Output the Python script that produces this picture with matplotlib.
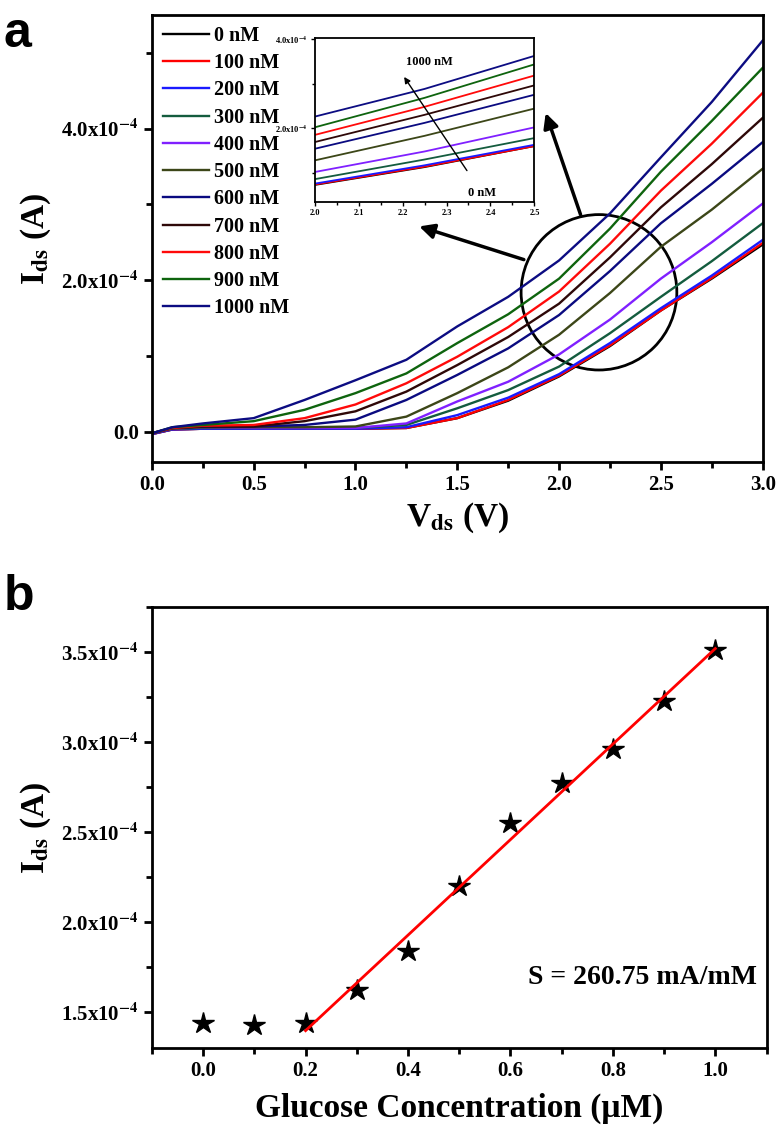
import numpy as np
import matplotlib
matplotlib.use("Agg")
import matplotlib.pyplot as plt
from matplotlib.patches import Ellipse
from matplotlib.ticker import MultipleLocator

plt.rcParams['font.family'] = ['Liberation Serif', 'DejaVu Serif']
plt.rcParams['font.weight'] = 'bold'
plt.rcParams['axes.labelweight'] = 'bold'
plt.rcParams['mathtext.fontset'] = 'stix'
plt.rcParams['axes.linewidth'] = 2

# panel a : output curves, current in units of 1e-4 A
vds = [0.0, 0.1, 0.25, 0.5, 0.75, 1.0, 1.25, 1.5, 1.75, 2.0, 2.25, 2.5, 2.75, 3.0]
conc_labels = ['0 nM', '100 nM', '200 nM', '300 nM', '400 nM', '500 nM',
               '600 nM', '700 nM', '800 nM', '900 nM', '1000 nM']
ids_0 = [-0.03, 0.03, 0.04, 0.04, 0.04, 0.04, 0.05, 0.18, 0.41, 0.73, 1.13, 1.60, 2.02, 2.47]
ids_100 = [-0.03, 0.03, 0.04, 0.04, 0.04, 0.04, 0.05, 0.18, 0.42, 0.74, 1.14, 1.60, 2.03, 2.49]
ids_200 = [-0.03, 0.03, 0.04, 0.04, 0.04, 0.04, 0.06, 0.22, 0.45, 0.76, 1.17, 1.63, 2.06, 2.53]
ids_300 = [-0.02, 0.04, 0.05, 0.05, 0.05, 0.05, 0.09, 0.31, 0.55, 0.86, 1.30, 1.78, 2.25, 2.75]
ids_400 = [-0.02, 0.04, 0.06, 0.05, 0.05, 0.05, 0.11, 0.40, 0.66, 1.02, 1.48, 2.02, 2.50, 3.01]
ids_500 = [-0.02, 0.04, 0.06, 0.06, 0.06, 0.07, 0.20, 0.51, 0.85, 1.28, 1.83, 2.44, 2.93, 3.47]
ids_600 = [-0.02, 0.05, 0.07, 0.07, 0.09, 0.16, 0.42, 0.75, 1.10, 1.54, 2.12, 2.75, 3.27, 3.82]
ids_700 = [-0.02, 0.05, 0.07, 0.07, 0.14, 0.27, 0.53, 0.88, 1.25, 1.69, 2.30, 2.96, 3.53, 4.14]
ids_800 = [-0.02, 0.05, 0.08, 0.09, 0.18, 0.36, 0.64, 0.99, 1.38, 1.85, 2.48, 3.18, 3.80, 4.47]
ids_900 = [-0.02, 0.06, 0.09, 0.14, 0.29, 0.51, 0.77, 1.17, 1.55, 2.02, 2.68, 3.43, 4.10, 4.80]
ids_1000 = [-0.02, 0.06, 0.11, 0.18, 0.42, 0.68, 0.95, 1.39, 1.78, 2.26, 2.88, 3.62, 4.35, 5.16]
curves = [ids_0, ids_100, ids_200, ids_300, ids_400, ids_500,
          ids_600, ids_700, ids_800, ids_900, ids_1000]
colors = ['#000000', '#ff0000', '#1a1aff', '#145c3e', '#8020ff', '#3c4618',
          '#0a0a80', '#2e0808', '#ff0a0a', '#0e640e', '#0c0c82']

# panel b : calibration
glucose = [0.0, 0.1, 0.2, 0.3, 0.4, 0.5, 0.6, 0.7, 0.8, 0.9, 1.0]
ids_b = [1.44, 1.43, 1.44, 1.62, 1.84, 2.20, 2.55, 2.77, 2.96, 3.23, 3.51]


def sci_label(v):
    if abs(v) < 1e-12:
        return '0.0'
    return '%.1fx10$^{\\mathbf{-4}}$' % v


fig = plt.figure(figsize=(7.79, 11.41), dpi=100)

# ---------- panel a
ax = fig.add_axes([0.195, 0.595, 0.784, 0.392])
for y, c, lab in zip(curves, colors, conc_labels):
    ax.plot(vds, np.array(y) * 1e-4, color=c, lw=1.7, label=lab)
ax.set_xlim(0, 3.0)
ax.set_ylim(-0.4e-4, 5.5e-4)
ax.xaxis.set_major_locator(MultipleLocator(0.5))
ax.xaxis.set_minor_locator(MultipleLocator(0.25))
yt = [0, 2e-4, 4e-4]
ax.set_yticks(yt)
ax.set_yticklabels([sci_label(v / 1e-4) for v in yt])
ax.yaxis.set_minor_locator(MultipleLocator(1e-4))
ax.set_xticklabels(['%.1f' % v for v in ax.get_xticks()])
ax.tick_params(which='both', direction='out', width=2, labelsize=15, top=False, right=False)
ax.tick_params(which='major', length=6)
ax.tick_params(which='minor', length=4)
ax.set_xlabel(r'V$_{\mathbf{ds}}$ (V)', fontsize=24, labelpad=4)
ax.set_ylabel(r'I$_{\mathbf{ds}}$ (A)', fontsize=24, labelpad=6)
ax.legend(loc='upper left', frameon=False, fontsize=14.5, handlelength=2.3,
          handletextpad=0.25, labelspacing=0.36, borderaxespad=0.15)

# circle + arrows
ax.add_patch(Ellipse((2.196, 1.84e-4), 0.765, 2.05e-4, fill=False, lw=2, color='black'))
ax.annotate('', xy=(1.93, 4.24e-4), xytext=(2.11, 2.83e-4),
            arrowprops=dict(arrowstyle='-|>', lw=2.5, color='black', mutation_scale=22))
ax.annotate('', xy=(1.30, 2.72e-4), xytext=(1.84, 2.26e-4),
            arrowprops=dict(arrowstyle='-|>', lw=2.5, color='black', mutation_scale=22))
fig.text(0.005, 0.99, 'a', fontsize=36, fontweight='bold', family='Liberation Sans', va='top')

# inset
axi = fig.add_axes([0.404, 0.823, 0.282, 0.1437])
for y, c in zip(curves, colors):
    axi.plot(vds, np.array(y) * 1e-4, color=c, lw=1.3)
axi.set_xlim(2.0, 2.5)
axi.set_ylim(0.35e-4, 4.02e-4)
axi.xaxis.set_major_locator(MultipleLocator(0.1))
axi.xaxis.set_minor_locator(MultipleLocator(0.05))
axi.set_xticklabels(['%.1f' % v for v in axi.get_xticks()])
yti = [2e-4, 4e-4]
axi.set_yticks(yti)
axi.set_yticklabels([sci_label(v / 1e-4) for v in yti])
axi.yaxis.set_minor_locator(MultipleLocator(1e-4))
for s in axi.spines.values():
    s.set_linewidth(1.3)
axi.tick_params(which='both', direction='out', width=1, labelsize=6, top=False, right=False, pad=2)
axi.tick_params(which='major', length=3)
axi.tick_params(which='minor', length=2)
axi.annotate('', xy=(2.2, 3.2e-4), xytext=(2.35, 1.0e-4),
             arrowprops=dict(arrowstyle='-|>', lw=1, color='black', mutation_scale=9))
axi.text(2.26, 3.35e-4, '1000 nM', fontsize=9, ha='center', va='bottom')
axi.text(2.38, 0.55e-4, '0 nM', fontsize=9, ha='center', va='center')

# ---------- panel b
bx = fig.add_axes([0.195, 0.0815, 0.789, 0.3865])
bx.plot(glucose, np.array(ids_b) * 1e-4, linestyle='none', marker='*', color='black', markersize=16)
fit = np.polyfit(glucose[2:], ids_b[2:], 1)
xf = np.array([glucose[2], glucose[-1]])
bx.plot(xf, np.polyval(fit, xf) * 1e-4, color='red', lw=2)
bx.set_xlim(-0.1, 1.1)
bx.set_ylim(1.30e-4, 3.75e-4)
bx.xaxis.set_minor_locator(MultipleLocator(0.1))
bx.set_xticks([0.0, 0.2, 0.4, 0.6, 0.8, 1.0])
bx.set_xticklabels(['%.1f' % v for v in [0.0, 0.2, 0.4, 0.6, 0.8, 1.0]])
ytb = [1.5e-4, 2.0e-4, 2.5e-4, 3.0e-4, 3.5e-4]
bx.set_yticks(ytb)
bx.set_yticklabels([sci_label(v / 1e-4) for v in ytb])
bx.yaxis.set_minor_locator(MultipleLocator(0.25e-4))
bx.tick_params(which='both', direction='out', width=2, labelsize=15, top=False, right=False)
bx.tick_params(which='major', length=6)
bx.tick_params(which='minor', length=4)
bx.set_xlabel('Glucose Concentration (\u03bcM)', fontsize=24, labelpad=8)
bx.set_ylabel(r'I$_{\mathbf{ds}}$ (A)', fontsize=24, labelpad=6)
bx.text(0.985, 0.16, 'S = 260.75 mA/mM', transform=bx.transAxes, fontsize=20,
        ha='right', va='center')
fig.text(0.005, 0.497, 'b', fontsize=36, fontweight='bold', family='Liberation Sans', va='top')

fig.savefig('out.png', dpi=100)
